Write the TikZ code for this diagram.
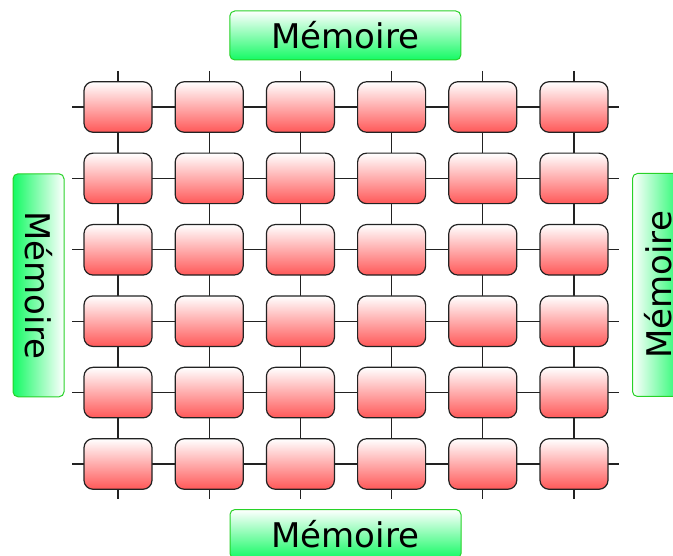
\documentclass[tikz,border=0pt]{standalone}
\usepackage{fontspec}
\setmainfont{DejaVu Sans}
\usetikzlibrary{backgrounds}
\definecolor{cellred}{RGB}{255,88,88}
\definecolor{cellline}{RGB}{34,34,34}
\definecolor{memgreen}{RGB}{20,250,100}
\definecolor{memborder}{RGB}{40,210,40}
\tikzset{
  cell/.style={draw=cellline, line width=1.2pt, rounded corners=9pt,
    minimum width=68pt, minimum height=50.5pt, top color=white,
    bottom color=cellred, inner sep=0pt},
  mem/.style={draw=memborder, line width=1pt, rounded corners=5pt,
    top color=white, bottom color=memgreen, inner sep=0pt,
    font=\fontsize{34}{40}\selectfont},
  wire/.style={draw=cellline, line width=1.3pt},
}
\begin{document}
\begin{tikzpicture}[x=1pt,y=-1pt]
\useasboundingbox (0,0) rectangle (673,556);
\foreach \i in {1,...,6}{
  \foreach \j in {1,...,6}{
    \node[cell] (c\i\j) at ({118+91.2*(\j-1)},{107+71.4*(\i-1)}) {};
  }
  \coordinate (l\i) at (72,{107+71.4*(\i-1)});
  \coordinate (r\i) at (619,{107+71.4*(\i-1)});
  \coordinate (t\i) at ({118+91.2*(\i-1)},71);
  \coordinate (b\i) at ({118+91.2*(\i-1)},499);
}
\begin{scope}[on background layer]
  \foreach \i in {1,...,6}{
    \draw[wire] (l\i) -- (c\i1.center);
    \draw[wire] (c\i6.center) -- (r\i);
    \draw[wire] (t\i) -- (c1\i.center);
    \draw[wire] (c6\i.center) -- (b\i);
    \foreach \j/\k in {1/2,2/3,3/4,4/5,5/6}{
      \draw[wire] (c\i\j.center) -- (c\i\k.center);
      \draw[wire] (c\j\i.center) -- (c\k\i.center);
    }
  }
\end{scope}
\node[mem, minimum width=231pt, minimum height=49pt] (mtop) at (345.3,35.5) {Mémoire};
\node[mem, minimum width=231pt, minimum height=49pt] (mbot) at (345.5,534) {Mémoire};
\node[mem, minimum width=223pt, minimum height=51pt, rotate=-90, shading angle=-90] (mleft) at (38.5,285.3) {Mémoire};
\node[mem, minimum width=223pt, minimum height=51pt, rotate=90, shading angle=90] (mright) at (658,285) {Mémoire};
\end{tikzpicture}
\end{document}
